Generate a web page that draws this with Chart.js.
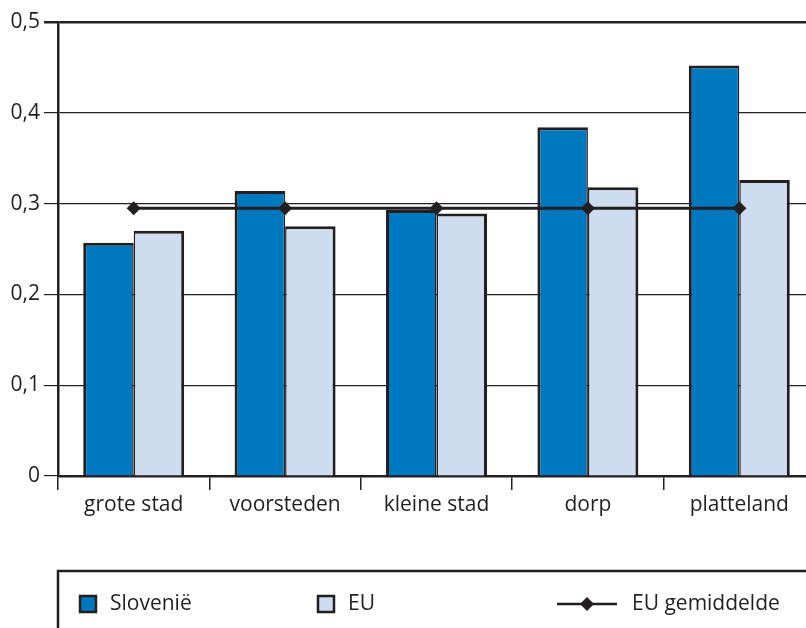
<!DOCTYPE html>
<html lang="nl">
<head>
    <meta charset="UTF-8">
    <title>Slovenië vs EU</title>
    <script src="https://cdn.jsdelivr.net/npm/chart.js"></script>
    <style>
        html, body {
            margin: 0;
            padding: 0;
            background: #fff;
            overflow: hidden;
        }
        .chart-container {
            width: 830px;
            height: 628px;
        }
    </style>
</head>
<body>
    <div class="chart-container">
        <canvas id="barChart" width="830" height="628"></canvas>
    </div>

    <script>
        // data
        const categories = ['grote stad', 'voorsteden', 'kleine stad', 'dorp', 'platteland'];
        const slovenie = [0.257, 0.314, 0.293, 0.384, 0.452];
        const eu = [0.270, 0.275, 0.289, 0.318, 0.326];
        const euAverage = [0.295, 0.295, 0.295, 0.295, 0.295];
        const yTickLabels = ['0', '0,1', '0,2', '0,3', '0,4', '0,5'];

        const ink = '#231f20';
        const darkBlue = '#0078bf';
        const lightBlue = '#cddcee';
        const fontFamily = '"Open Sans", "Liberation Sans", Arial, sans-serif';

        Chart.defaults.font.family = fontFamily;
        Chart.defaults.font.size = 21;
        Chart.defaults.color = ink;

        // boxed legend along the bottom (partly cut off like the original)
        const boxLegend = {
            id: 'boxLegend',
            afterDraw(chart) {
                const ctx = chart.ctx;
                const ds = chart.data.datasets;
                ctx.save();
                ctx.strokeStyle = ink;
                ctx.lineWidth = 2.5;
                ctx.strokeRect(58, 571, 800, 120);

                const y = 604;
                ctx.font = '21px ' + fontFamily;
                ctx.textBaseline = 'middle';
                ctx.textAlign = 'left';

                // bar swatches
                [[ds[0], 80, 110], [ds[1], 318, 348]].forEach(([d, x, tx]) => {
                    ctx.fillStyle = d.backgroundColor;
                    ctx.fillRect(x, y - 8, 16, 16);
                    ctx.lineWidth = 2.5;
                    ctx.strokeStyle = ink;
                    ctx.strokeRect(x, y - 8, 16, 16);
                    ctx.fillStyle = ink;
                    ctx.fillText(d.label, tx, y);
                });

                // line swatch
                ctx.beginPath();
                ctx.moveTo(557, y);
                ctx.lineTo(617, y);
                ctx.lineWidth = 2.5;
                ctx.stroke();
                ctx.beginPath();
                ctx.moveTo(587, y - 7);
                ctx.lineTo(594, y);
                ctx.lineTo(587, y + 7);
                ctx.lineTo(580, y);
                ctx.closePath();
                ctx.fillStyle = ink;
                ctx.fill();
                ctx.fillText(ds[2].label, 632, y);
                ctx.restore();
            }
        };

        const ctx = document.getElementById('barChart').getContext('2d');
        new Chart(ctx, {
            data: {
                labels: categories,
                datasets: [
                    {
                        type: 'bar',
                        label: 'Slovenië',
                        data: slovenie,
                        backgroundColor: darkBlue,
                        borderColor: ink,
                        borderWidth: { top: 3, left: 3, right: 1.5, bottom: 0 },
                        borderSkipped: false,
                        categoryPercentage: 0.667,
                        barPercentage: 1,
                        order: 2
                    },
                    {
                        type: 'bar',
                        label: 'EU',
                        data: eu,
                        backgroundColor: lightBlue,
                        borderColor: ink,
                        borderWidth: { top: 3, left: 1.5, right: 3, bottom: 0 },
                        borderSkipped: false,
                        categoryPercentage: 0.667,
                        barPercentage: 1,
                        order: 2
                    },
                    {
                        type: 'line',
                        label: 'EU gemiddelde',
                        data: euAverage,
                        borderColor: ink,
                        backgroundColor: ink,
                        borderWidth: 3,
                        pointStyle: 'rectRot',
                        pointRadius: 7,
                        pointBorderWidth: 0,
                        pointBackgroundColor: ink,
                        order: 0
                    }
                ]
            },
            options: {
                responsive: false,
                animation: false,
                layout: {
                    padding: { top: 22, left: 0, right: 15, bottom: 0 }
                },
                plugins: {
                    legend: { display: false },
                    tooltip: { enabled: false }
                },
                scales: {
                    x: {
                        offset: true,
                        grid: {
                            offset: true,
                            drawOnChartArea: false,
                            tickLength: 14,
                            color: ink,
                            lineWidth: 1.5
                        },
                        border: { display: true, color: ink, width: 2.5 },
                        ticks: { padding: 2, maxRotation: 0 },
                        afterFit(scale) { scale.height = 152; }
                    },
                    y: {
                        min: 0,
                        max: 0.5,
                        ticks: {
                            stepSize: 0.1,
                            padding: 4,
                            callback: (v, i) => yTickLabels[i]
                        },
                        grid: {
                            color: ink,
                            tickLength: 14,
                            lineWidth: c => (c.index === yTickLabels.length - 1 ? 2.5 : 1.2)
                        },
                        border: { display: true, color: ink, width: 2.5 },
                        afterFit(scale) { scale.width = 58; }
                    }
                }
            },
            plugins: [boxLegend]
        });
    </script>
</body>
</html>
